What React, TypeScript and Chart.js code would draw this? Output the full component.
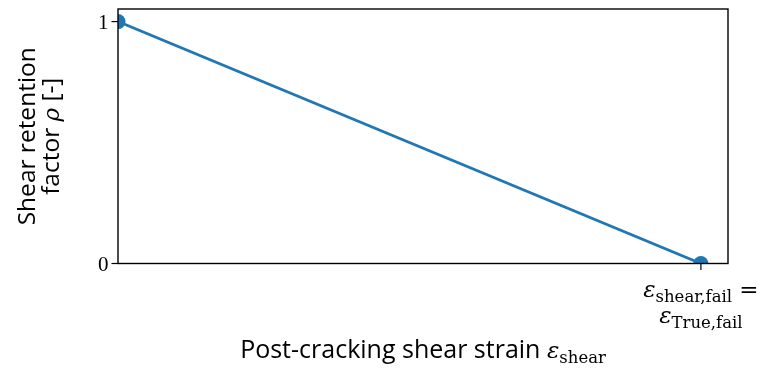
import React, { useEffect, useRef } from "react";
import { Chart, registerables } from "chart.js";

Chart.register(...registerables);

// ---- data ----
const strainValues = [0, 1];
const retentionValues = [1, 0];
const xTickValues = [1];
const yTickValues = [0, 1];
const yTickLabels = ["0", "1"];
const xMin = 0;
const xMax = 1.0465;
const yMin = 0;
const yMax = 1.052;

const LINE_COLOR = "#1f77b4";
const SERIF = '"Liberation Serif", "DejaVu Serif", serif';
const MATH = '"DejaVu Serif", "Liberation Serif", serif';
const SANS = '"Open Sans", "DejaVu Sans", sans-serif';

type Seg = { text: string; font: string; dy?: number };

function drawRich(ctx: CanvasRenderingContext2D, segs: Seg[], cx: number, baseline: number) {
  let total = 0;
  const widths = segs.map((s) => {
    ctx.font = s.font;
    const w = ctx.measureText(s.text).width;
    total += w;
    return w;
  });
  let x = cx - total / 2;
  ctx.textAlign = "left";
  ctx.textBaseline = "alphabetic";
  segs.forEach((s, i) => {
    ctx.font = s.font;
    ctx.fillText(s.text, x, baseline + (s.dy || 0));
    x += widths[i];
  });
}

const decorPlugin = {
  id: "decor",
  afterDraw(chart: any) {
    const { ctx, chartArea } = chart;
    const xs = chart.scales.x;
    const ys = chart.scales.y;
    const { left, right, top, bottom } = chartArea;
    ctx.save();
    ctx.strokeStyle = "#000";
    ctx.fillStyle = "#000";
    ctx.lineWidth = 1.4;
    ctx.strokeRect(left, top, right - left, bottom - top);

    // y ticks
    ctx.lineWidth = 1.2;
    yTickValues.forEach((v, i) => {
      const y = ys.getPixelForValue(v);
      ctx.beginPath();
      ctx.moveTo(left - 6.5, y);
      ctx.lineTo(left, y);
      ctx.stroke();
      ctx.font = `21px ${SERIF}`;
      ctx.textAlign = "right";
      ctx.textBaseline = "alphabetic";
      ctx.fillText(yTickLabels[i], left - 9.5, y + 7.5);
    });

    // x ticks
    xTickValues.forEach((v) => {
      const x = xs.getPixelForValue(v);
      ctx.beginPath();
      ctx.moveTo(x, bottom);
      ctx.lineTo(x, bottom + 6.5);
      ctx.stroke();
      drawRich(
        ctx,
        [
          { text: "ε", font: `italic 23px ${MATH}` },
          { text: "shear,fail", font: `16.5px ${MATH}`, dy: 5 },
          { text: " =", font: `23px ${MATH}` },
        ],
        x,
        bottom + 33
      );
      drawRich(
        ctx,
        [
          { text: "ε", font: `italic 23px ${MATH}` },
          { text: "True,fail", font: `16.5px ${MATH}`, dy: 5 },
        ],
        x,
        bottom + 59.5
      );
    });

    // x title
    drawRich(
      ctx,
      [
        { text: "Post-cracking shear strain ", font: `25px ${SANS}` },
        { text: "ε", font: `italic 23px ${MATH}` },
        { text: "shear", font: `16.5px ${MATH}`, dy: 5 },
      ],
      (left + right) / 2,
      358
    );

    // y title (rotated)
    ctx.save();
    const cy = (top + bottom) / 2;
    ctx.translate(0, cy);
    ctx.rotate(-Math.PI / 2);
    drawRich(ctx, [{ text: "Shear retention", font: `24.5px ${SANS}` }], 0, 35);
    drawRich(
      ctx,
      [
        { text: "factor ", font: `24.5px ${SANS}` },
        { text: "ρ", font: `italic 23px ${MATH}` },
        { text: " [-]", font: `24.5px ${SANS}` },
      ],
      0,
      59
    );
    ctx.restore();
    ctx.restore();
  },
};

export default function App() {
  const ref = useRef<HTMLCanvasElement | null>(null);
  useEffect(() => {
    if (!ref.current) return;
    const chart = new Chart(ref.current, {
      type: "scatter",
      data: {
        datasets: [
          {
            data: strainValues.map((x, i) => ({ x, y: retentionValues[i] })),
            showLine: true,
            borderColor: LINE_COLOR,
            backgroundColor: LINE_COLOR,
            borderWidth: 2.8,
            pointRadius: 7.5,
            pointBorderWidth: 0,
            pointBackgroundColor: LINE_COLOR,
            clip: 0,
          } as any,
        ],
      },
      options: {
        animation: false,
        responsive: false,
        layout: { padding: { left: 118, right: 34, top: 9, bottom: 105.5 } },
        plugins: { legend: { display: false }, tooltip: { enabled: false } },
        scales: {
          x: { type: "linear", min: xMin, max: xMax, display: false },
          y: { type: "linear", min: yMin, max: yMax, display: false },
        },
      },
      plugins: [decorPlugin],
    });
    return () => chart.destroy();
  }, []);
  return (
    <div style={{ position: "absolute", left: 0, top: 0, width: 762, height: 369, background: "#fff" }}>
      <canvas ref={ref} width={762} height={369} style={{ display: "block" }} />
    </div>
  );
}
